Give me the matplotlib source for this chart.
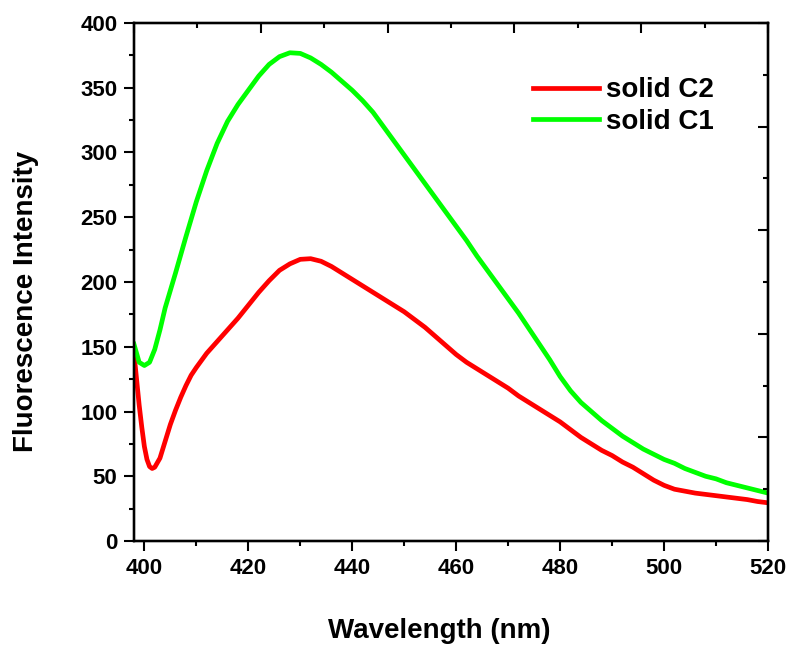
import matplotlib
matplotlib.use("Agg")
import matplotlib.pyplot as plt
import numpy as np

plt.rcParams['font.family'] = ['Liberation Sans', 'DejaVu Sans']
plt.rcParams['font.weight'] = 'bold'

# Emission spectra (wavelength in nm, intensity in a.u.)
wl_c2 = [398, 398.5, 399, 399.5, 400, 400.5, 401, 401.5, 402, 403, 404, 405, 406, 407,
         408, 409, 410, 412, 414, 416, 418, 420, 422, 424, 426, 428, 430, 432, 434,
         436, 438, 440, 442, 444, 446, 448, 450, 452, 454, 456, 458, 460, 462, 464,
         466, 468, 470, 472, 474, 476, 478, 480, 482, 484, 486, 488, 490, 492, 494,
         496, 498, 500, 502, 504, 506, 508, 510, 512, 514, 516, 518, 520]
int_c2 = [145, 125, 105, 88, 73, 63, 57.5, 56, 57, 64, 77, 90, 101, 111,
          120, 128, 134, 145, 154, 163, 172, 182, 192, 201, 209, 214, 217.5, 218, 216,
          212, 207, 202, 197, 192, 187, 182, 177, 171, 165, 158, 151, 144, 138, 133,
          128, 123, 118, 112, 107, 102, 97, 92, 86, 80, 75, 70, 66, 61, 57,
          52, 47, 43, 40, 38.5, 37, 36, 35, 34, 33, 32, 30.5, 29.5]

wl_c1 = [398, 399, 400, 401, 402, 403, 404, 406, 408, 410, 412, 414, 416, 418, 420,
         422, 424, 426, 428, 430, 432, 434, 436, 438, 440, 442, 444, 446, 448, 450,
         452, 454, 456, 458, 460, 462, 464, 466, 468, 470, 472, 474, 476, 478, 480,
         482, 484, 486, 488, 490, 492, 494, 496, 498, 500, 502, 504, 506, 508, 510,
         512, 514, 516, 518, 520]
int_c1 = [152, 138, 135.5, 138, 148, 163, 180, 207, 235, 262, 286, 307, 324, 337, 348,
          359, 368, 374, 377, 376.5, 373, 368, 362, 355, 348, 340, 331, 320, 309, 298,
          287, 276, 265, 254, 243, 232, 220, 209, 198, 187, 176, 164, 152, 140, 127,
          116, 107, 100, 93, 87, 81, 76, 71, 67, 63, 60, 56, 53, 50, 48,
          45, 43, 41, 39, 37]

x_ticks = [400, 420, 440, 460, 480, 500, 520]
y_ticks = [0, 50, 100, 150, 200, 250, 300, 350, 400]

fig = plt.figure(figsize=(7.89, 6.47), dpi=100)
ax = fig.add_axes([0.1698, 0.1638, 0.8036, 0.8007])

ax.plot(wl_c2, int_c2, color='#ff0000', lw=3.4, label='solid C2')
ax.plot(wl_c1, int_c1, color='#00ff00', lw=3.4, label='solid C1')

ax.set_xlim(398, 520)
ax.set_ylim(0, 400)
ax.set_xticks(x_ticks)
ax.set_yticks(y_ticks)
ax.set_xticks(np.arange(410, 520, 20), minor=True)
ax.set_yticks(np.arange(25, 400, 50), minor=True)
ax.tick_params(which='major', direction='out', length=7, width=1.5, labelsize=16, pad=5)
ax.tick_params(which='minor', direction='out', length=3.5, width=1.5)
for lab in ax.get_xticklabels() + ax.get_yticklabels():
    lab.set_fontweight('bold')

for sp in ax.spines.values():
    sp.set_linewidth(1.6)

ax.set_xlabel('Wavelength (nm)', fontsize=20, fontweight='bold')
ax.set_ylabel('Fluorescence Intensity', fontsize=20, fontweight='bold')
ax.xaxis.set_label_coords(0.481, -0.148)
ax.yaxis.set_label_coords(-0.15, 0.463)

# Top and right frame axes with their own evenly divided inward ticks
top = ax.twiny()
top.set_xlim(0, 1)
top.set_xticks(np.linspace(0, 1, 6))
top.set_xticks(np.linspace(0.1, 0.9, 5), minor=True)
top.tick_params(which='major', direction='in', length=7, width=1.5, labeltop=False)
top.tick_params(which='minor', direction='in', length=3.5, width=1.5)

right = ax.twinx()
right.set_ylim(0, 1)
right.set_yticks(np.linspace(0, 1, 6))
right.set_yticks(np.linspace(0.1, 0.9, 5), minor=True)
right.tick_params(which='major', direction='in', length=7, width=1.5, labelright=False)
right.tick_params(which='minor', direction='in', length=3.5, width=1.5)
for a in (top, right):
    for sp in a.spines.values():
        sp.set_linewidth(1.6)

leg = ax.legend(loc='upper left', bbox_to_anchor=(0.63, 0.895), frameon=False,
                prop={'size': 20, 'weight': 'bold'}, handlelength=2.35,
                handletextpad=0.25, labelspacing=0.2, borderaxespad=0,
                borderpad=0)

fig.savefig('out.png', dpi=100)
